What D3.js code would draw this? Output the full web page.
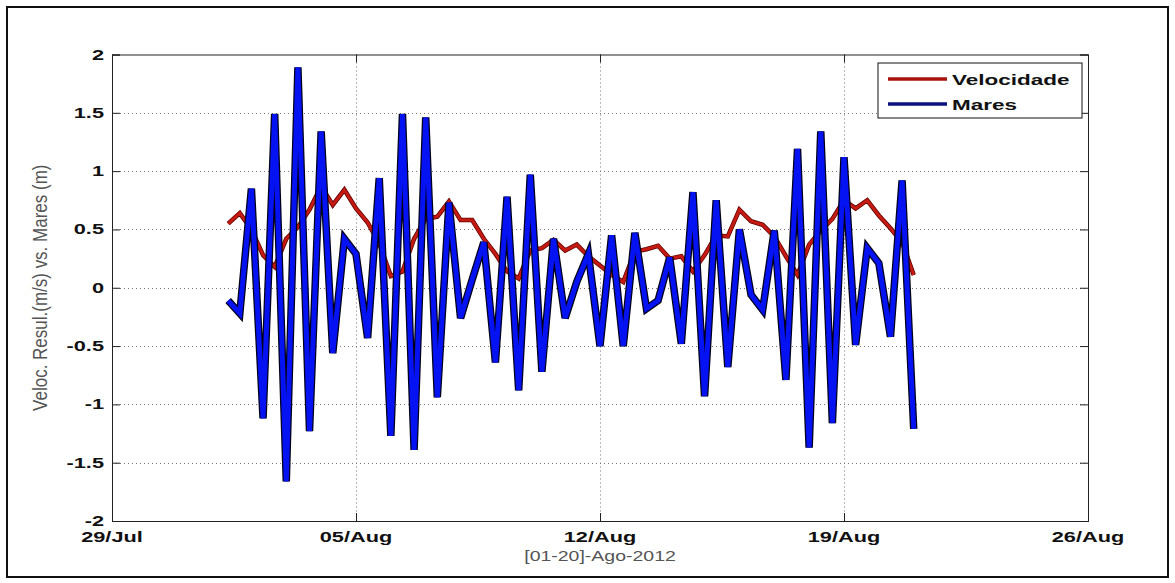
<!DOCTYPE html>
<html lang="en">
<head>
  <meta charset="UTF-8">
  <title>Velocidade vs Mares</title>
  <script src="https://d3js.org/d3.v7.min.js"></script>
  <style>
    body {
      margin: 0;
      background: white;
      font-family: Arial, "Liberation Sans", sans-serif;
    }
    svg { display: block; }
  </style>
</head>
<body>
  <div id="chart"></div>

  <script>
    // hours after 01/Aug/2012 00:00 (one sample every 8 h)
    const horas = [8, 16, 24, 32, 40, 48, 56, 64, 72, 80,
      88, 96, 104, 112, 120, 128, 136, 144, 152, 160,
      168, 176, 184, 192, 200, 208, 216, 224, 232, 240,
      248, 256, 264, 272, 280, 288, 296, 304, 312, 320,
      328, 336, 344, 352, 360, 368, 376, 384, 392, 400,
      408, 416, 424, 432, 440, 448, 456, 464, 472, 480];

    const velocidade = [0.55, 0.64, 0.50, 0.28, 0.18, 0.42, 0.52, 0.67, 0.87, 0.71,
      0.84, 0.68, 0.56, 0.38, 0.10, 0.14, 0.42, 0.59, 0.61, 0.74,
      0.58, 0.58, 0.42, 0.29, 0.14, 0.08, 0.32, 0.34, 0.41, 0.32,
      0.37, 0.27, 0.19, 0.11, 0.05, 0.31, 0.33, 0.36, 0.25, 0.27,
      0.14, 0.28, 0.45, 0.44, 0.67, 0.57, 0.54, 0.44, 0.27, 0.11,
      0.37, 0.49, 0.59, 0.75, 0.68, 0.75, 0.62, 0.51, 0.39, 0.11];

    const mares = [-0.11, -0.22, 0.85, -1.12, 1.49, -1.66, 1.89, -1.23, 1.34, -0.56,
      0.42, 0.29, -0.43, 0.94, -1.27, 1.49, -1.39, 1.46, -0.94, 0.73,
      -0.26, 0.07, 0.39, -0.64, 0.78, -0.88, 0.97, -0.72, 0.42, -0.26,
      0.05, 0.29, -0.50, 0.45, -0.50, 0.47, -0.18, -0.11, 0.26, -0.48,
      0.82, -0.93, 0.75, -0.68, 0.50, -0.06, -0.19, 0.49, -0.79, 1.19,
      -1.37, 1.34, -1.16, 1.12, -0.49, 0.34, 0.21, -0.42, 0.92, -1.21];

    const xTickDates = ["2012-07-29", "2012-08-05", "2012-08-12", "2012-08-19", "2012-08-26"];
    const yTickValues = [-2, -1.5, -1, -0.5, 0, 0.5, 1, 1.5, 2];
    const seriesNames = ["Velocidade", "Mares"];

    const width = 1175, height = 583;
    const plot = { left: 112, right: 1088, top: 54.5, bottom: 521 };

    const t0 = new Date(2012, 7, 1, 0, 0);
    const tempos = horas.map(h => new Date(t0.getTime() + h * 3600 * 1000));
    const parse = d3.timeParse("%Y-%m-%d");
    const xTicks = xTickDates.map(parse);

    const x = d3.scaleTime()
      .domain([xTicks[0], xTicks[xTicks.length - 1]])
      .range([plot.left, plot.right]);
    const y = d3.scaleLinear()
      .domain([-2, 2])
      .range([plot.bottom, plot.top]);

    const svg = d3.select("#chart").append("svg")
      .attr("width", width)
      .attr("height", height);

    svg.append("rect")
      .attr("width", width).attr("height", height)
      .attr("fill", "white");

    // outer frame of the picture
    svg.append("rect")
      .attr("x", 7).attr("y", 7)
      .attr("width", 1161).attr("height", 570)
      .attr("fill", "none")
      .attr("stroke", "#111")
      .attr("stroke-width", 2);

    // dotted grid
    const grid = svg.append("g")
      .attr("stroke", "#777")
      .attr("stroke-width", 1)
      .attr("stroke-dasharray", "1,3");
    grid.selectAll(".gx")
      .data(xTicks.slice(1, -1))
      .join("line")
      .attr("x1", d => Math.round(x(d)) + 0.5).attr("x2", d => Math.round(x(d)) + 0.5)
      .attr("y1", plot.top).attr("y2", plot.bottom);
    grid.selectAll(".gy")
      .data(yTickValues.slice(1, -1))
      .join("line")
      .attr("x1", plot.left).attr("x2", plot.right)
      .attr("y1", d => Math.round(y(d)) + 0.5).attr("y2", d => Math.round(y(d)) + 0.5);

    // axes, ticks pointing inwards like matlab
    const tickLen = 8;
    const fmtX = d3.timeFormat("%d/%b");
    const axisBottom = d3.axisBottom(x).tickValues(xTicks).tickSize(-tickLen).tickFormat("");
    const axisTop = d3.axisTop(x).tickValues(xTicks).tickSize(-tickLen).tickFormat("");
    const axisLeft = d3.axisLeft(y).tickValues(yTickValues).tickSize(-tickLen).tickFormat("");
    const axisRight = d3.axisRight(y).tickValues(yTickValues).tickSize(-tickLen).tickFormat("");

    svg.append("g").attr("transform", `translate(0,${plot.bottom})`).call(axisBottom);
    svg.append("g").attr("transform", `translate(0,${plot.top})`).call(axisTop);
    svg.append("g").attr("transform", `translate(${plot.left},0)`).call(axisLeft);
    svg.append("g").attr("transform", `translate(${plot.right},0)`).call(axisRight);
    svg.selectAll(".domain").attr("stroke", "#222");
    svg.selectAll(".tick line").attr("stroke", "#222");

    // tick labels (the original picture is stretched sideways, so scale the text)
    const labels = svg.append("g")
      .attr("font-family", "Arial, 'Liberation Sans', sans-serif")
      .attr("font-weight", "bold")
      .attr("font-size", 15)
      .attr("fill", "#111");

    labels.selectAll(".xl")
      .data(xTicks)
      .join("text")
      .attr("text-anchor", "middle")
      .attr("transform", d => `translate(${x(d)},${plot.bottom + 21}) scale(1.45,1)`)
      .text(d => fmtX(d));

    labels.selectAll(".yl")
      .data(yTickValues)
      .join("text")
      .attr("text-anchor", "end")
      .attr("transform", d => `translate(104,${y(d) + 5}) scale(1.45,1)`)
      .text(d => String(d));

    // axis titles
    svg.append("text")
      .attr("text-anchor", "middle")
      .attr("font-size", 15)
      .attr("fill", "#555")
      .attr("transform", `translate(${(plot.left + plot.right) / 2},561) scale(1.3,1)`)
      .text("[01-20]-Ago-2012");

    svg.append("text")
      .attr("text-anchor", "middle")
      .attr("font-size", 17)
      .attr("fill", "#555")
      .attr("dy", "0.35em")
      .attr("transform", `translate(40,${(plot.top + plot.bottom) / 2}) scale(1.2,1) rotate(-90)`)
      .text("Veloc. Resul.(m/s) vs. Mares (m)");

    // lines: dark outline under a coloured core, as in the jpeg
    const linePath = d3.line()
      .x((d, i) => x(tempos[i]))
      .y(d => y(d));

    const lines = svg.append("g").attr("fill", "none");

    lines.append("path")
      .datum(velocidade)
      .attr("d", linePath)
      .attr("stroke", "#600000")
      .attr("stroke-width", 4.5);
    lines.append("path")
      .datum(velocidade)
      .attr("d", linePath)
      .attr("stroke", "#c41a12")
      .attr("stroke-width", 3);

    lines.append("path")
      .datum(mares)
      .attr("d", linePath)
      .attr("stroke", "#00001a")
      .attr("stroke-width", 7.5);
    lines.append("path")
      .datum(mares)
      .attr("d", linePath)
      .attr("stroke", "#0512f2")
      .attr("stroke-width", 5);

    // legend
    const legend = svg.append("g").attr("transform", "translate(878,63)");
    legend.append("rect")
      .attr("width", 204).attr("height", 55)
      .attr("fill", "white")
      .attr("stroke", "#111")
      .attr("stroke-width", 1);

    const legendColors = ["#a8120c", "#0a1080"];
    seriesNames.forEach((name, i) => {
      const ly = 16 + i * 25;
      legend.append("line")
        .attr("x1", 10).attr("x2", 69)
        .attr("y1", ly).attr("y2", ly)
        .attr("stroke", legendColors[i])
        .attr("stroke-width", 3.5);
      legend.append("text")
        .attr("font-weight", "bold")
        .attr("font-size", 15)
        .attr("fill", "#111")
        .attr("transform", `translate(74,${ly + 5.5}) scale(1.5,1)`)
        .text(name);
    });
  </script>
</body>
</html>
